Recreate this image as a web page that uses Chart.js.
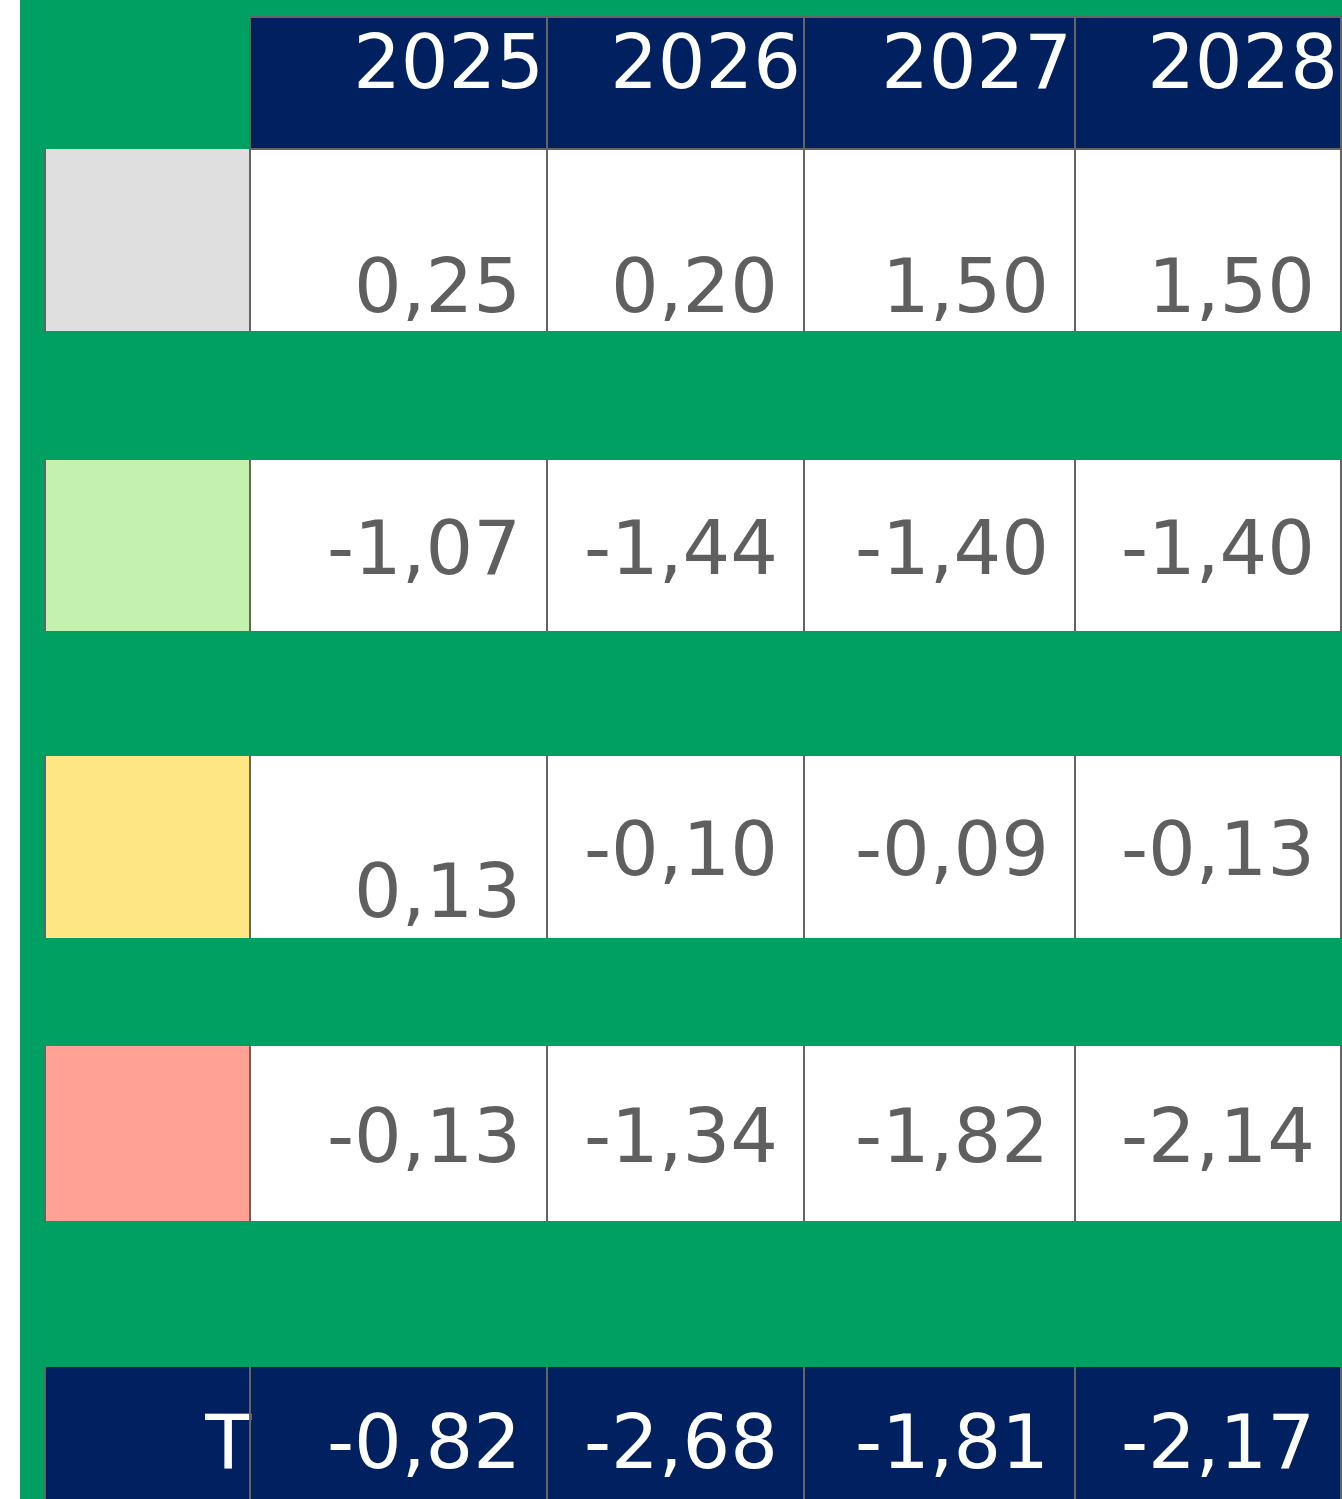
<!DOCTYPE html>
<html>
<head>
<meta charset="utf-8">
<script src="https://cdn.jsdelivr.net/npm/chart.js@4.4.1/dist/chart.umd.min.js"></script>
<style>
  html, body { margin: 0; padding: 0; background: #ffffff; }
  #wrap { position: relative; width: 1342px; height: 1499px; }
</style>
</head>
<body>
<div id="wrap"><canvas id="c" width="1342" height="1499"></canvas></div>
<script>
// ---- data ----
const years = ['2025', '2026', '2027', '2028'];
const rowLabels = ['', '', '', ''];
const totalLabel = 'T';
const row1 = [0.25, 0.20, 1.50, 1.50];
const row2 = [-1.07, -1.44, -1.40, -1.40];
const row3 = [0.13, -0.10, -0.09, -0.13];
const row4 = [-0.13, -1.34, -1.82, -2.14];
const totals = [-0.82, -2.68, -1.81, -2.17];

// ---- layout / style ----
const W = 1342, H = 1499;
const colEdges = [46, 250, 547, 804, 1075, 1341];
const headerBand = [17, 149];
const rowBands = [[149, 331], [460, 631], [756, 938], [1046, 1221]];
const totalBand = [1367, 1499];
const headerBaseline = 88;
const rowBaselines = [[312, 312, 312, 312], [574, 574, 574, 574], [917, 875, 875, 875], [1162, 1162, 1162, 1162]];
const totalBaseline = 1468;
const swatchColors = ['#dfdfdf', '#c4f0b0', '#ffe685', '#ffa295'];
const GREEN = '#00a063', NAVY = '#00205f', BORDER = '#646464', TEXT = '#5f5f5f';
const FONT = '75px "DejaVu Sans"';
const VALUE_PAD = 26, HEADER_PAD = 3;

const rows = [row1, row2, row3, row4];
const fmt = v => v.toFixed(2).replace('.', ',');

const tablePlugin = {
  id: 'tablePlugin',
  beforeDraw(chart) {
    const ctx = chart.ctx;
    const xs = chart.scales.x, ys = chart.scales.y;
    const px = v => xs.getPixelForValue(v);
    const py = v => ys.getPixelForValue(v);
    const rect = (x0, y0, x1, y1, color) => {
      ctx.fillStyle = color;
      ctx.fillRect(px(x0), py(y0), px(x1) - px(x0), py(y1) - py(y0));
    };
    const vline = (x, y0, y1) => {
      ctx.strokeStyle = BORDER; ctx.lineWidth = 2;
      ctx.beginPath(); ctx.moveTo(px(x), py(y0)); ctx.lineTo(px(x), py(y1)); ctx.stroke();
    };
    const hline = (y, x0, x1) => {
      ctx.strokeStyle = BORDER; ctx.lineWidth = 2;
      ctx.beginPath(); ctx.moveTo(px(x0), py(y)); ctx.lineTo(px(x1), py(y)); ctx.stroke();
    };
    ctx.save();
    // background
    rect(0, 0, W, H, '#ffffff');
    rect(20, 0, W, H, GREEN);

    // header
    rect(colEdges[1], headerBand[0], W, headerBand[1], NAVY);
    ctx.font = FONT; ctx.textAlign = 'right'; ctx.textBaseline = 'alphabetic';
    ctx.fillStyle = '#ffffff';
    years.forEach((y, i) => ctx.fillText(y, px(colEdges[i + 2]) - HEADER_PAD, py(headerBaseline)));

    // body rows
    rows.forEach((vals, r) => {
      const [t, b] = rowBands[r];
      rect(colEdges[0], t, colEdges[1], b, swatchColors[r]);
      rect(colEdges[1], t, W, b, '#ffffff');
      ctx.fillStyle = TEXT; ctx.font = FONT; ctx.textAlign = 'right';
      if (rowLabels[r]) ctx.fillText(rowLabels[r], px(colEdges[1]) - 2, py(rowBaselines[r][0]));
      vals.forEach((v, i) => ctx.fillText(fmt(v), px(colEdges[i + 2]) - VALUE_PAD, py(rowBaselines[r][i])));
      for (let k = 0; k < colEdges.length; k++) vline(colEdges[k] - (k === 0 ? 1 : 0), t, b);
    });

    // total row
    rect(colEdges[0], totalBand[0], W, totalBand[1], NAVY);
    ctx.fillStyle = '#ffffff'; ctx.font = FONT; ctx.textAlign = 'right';
    ctx.fillText(totalLabel, px(colEdges[1]) + 1, py(totalBaseline));
    totals.forEach((v, i) => ctx.fillText(fmt(v), px(colEdges[i + 2]) - VALUE_PAD, py(totalBaseline)));
    for (let k = 0; k < colEdges.length; k++) vline(colEdges[k] - (k === 0 ? 1 : 0), totalBand[0], totalBand[1]);

    // header borders
    for (let k = 1; k < colEdges.length; k++) vline(colEdges[k], headerBand[0], headerBand[1]);
    hline(headerBand[0], colEdges[1], W);
    hline(headerBand[1], colEdges[1], W);
    ctx.restore();
  }
};

new Chart(document.getElementById('c'), {
  type: 'scatter',
  data: { datasets: [{ data: [], pointRadius: 0 }] },
  options: {
    responsive: false,
    animation: false,
    layout: { padding: 0 },
    plugins: { legend: { display: false }, tooltip: { enabled: false } },
    scales: {
      x: { type: 'linear', min: 0, max: W, display: false },
      y: { type: 'linear', min: 0, max: H, reverse: true, display: false }
    }
  },
  plugins: [tablePlugin]
});
</script>
</body>
</html>
